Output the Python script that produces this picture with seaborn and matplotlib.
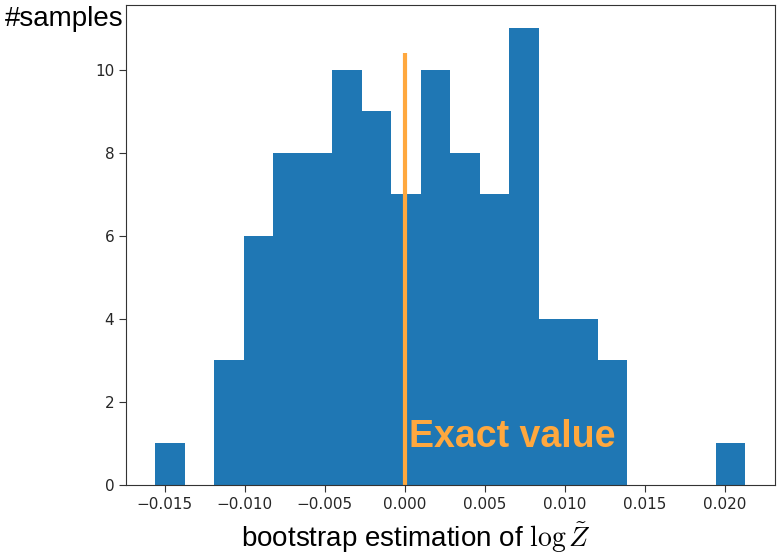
import numpy as np
import pandas as pd
import matplotlib
matplotlib.use("Agg")
import matplotlib.pyplot as plt
import seaborn as sns

# ── Data ─────────────────────────────────────────────────────────────────────
counts = [1, 0, 3, 6, 8, 8, 10, 9, 7, 10, 8, 7, 11, 4, 4, 3, 0, 0, 0, 1]
bin_lo = -0.01558
bin_hi = 0.02131
exact_value = 0.0
line_top = 10.4

BAR_COLOR = "#1f77b4"
ORANGE = "#ffa83e"
TEXT_FONT = ["Liberation Sans", "DejaVu Sans"]

edges = np.linspace(bin_lo, bin_hi, len(counts) + 1)
centers = (edges[:-1] + edges[1:]) / 2
df = pd.DataFrame({"estimate": centers, "n": counts})

sns.set_style("ticks")
plt.rcParams.update({
    "font.family": ["DejaVu Sans"],
    "mathtext.fontset": "cm",
    "axes.edgecolor": "#333333",
    "xtick.color": "#333333",
    "ytick.color": "#333333",
    "xtick.labelcolor": "#262626",
    "ytick.labelcolor": "#262626",
    "xtick.major.size": 5,
    "ytick.major.size": 5,
    "font.size": 11,
})

fig = plt.figure(figsize=(7.81, 5.56), dpi=100)
ax = fig.add_axes([0.1613, 0.1277, 0.831, 0.863])

sns.histplot(data=df, x="estimate", weights="n", bins=len(counts),
             binrange=(bin_lo, bin_hi), color=BAR_COLOR,
             alpha=1, linewidth=0, ax=ax)
ax.vlines(exact_value, 0, line_top, color=ORANGE, lw=3)
ax.text(exact_value + 0.0003, 0.91, "Exact value", color=ORANGE,
        fontsize=27, fontweight="bold", family=TEXT_FONT,
        ha="left", va="baseline")

ax.set_xlabel("")
ax.set_ylabel("")
ax.set_xticks([-0.015, -0.010, -0.005, 0.000, 0.005, 0.010, 0.015, 0.020])
ax.tick_params(labelsize=11)
for sp in ax.spines.values():
    sp.set_visible(True)

fig.text(5 / 781, 1 - 26 / 556, "#samples", fontsize=20, family=TEXT_FONT,
         color="black", ha="left", va="baseline")
fig.text(416.5 / 781, 9 / 556, r"bootstrap estimation of $\log\tilde{Z}$",
         fontsize=20, family=TEXT_FONT, color="black",
         ha="center", va="baseline")

fig.savefig("out.png", dpi=100)
